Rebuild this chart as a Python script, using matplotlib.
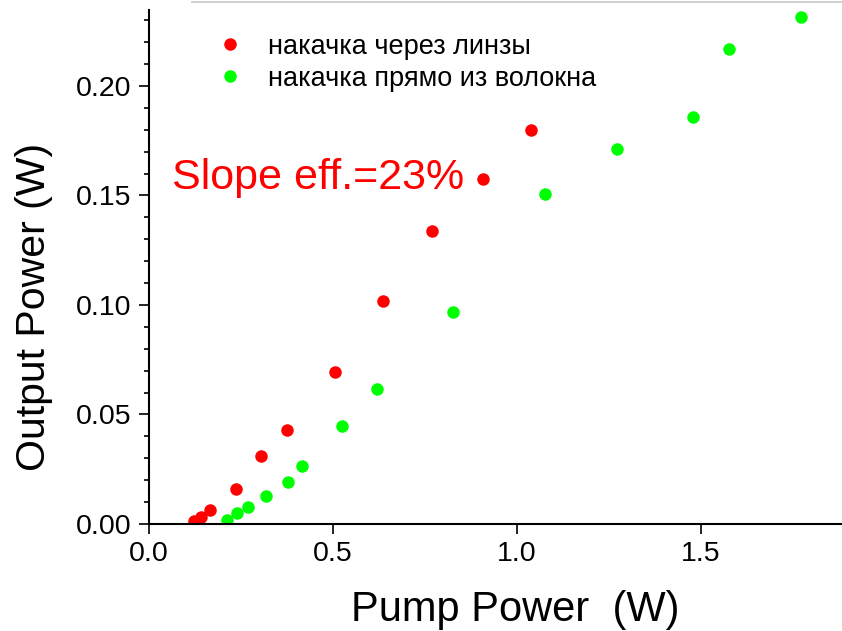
import matplotlib.pyplot as plt
import numpy as np
from matplotlib.lines import Line2D
from matplotlib.ticker import MultipleLocator, FormatStrFormatter

plt.rcParams['font.family'] = ['Liberation Sans', 'DejaVu Sans']

# накачка через линзы
x_lens = [0.122, 0.141, 0.166, 0.236, 0.304, 0.375, 0.505, 0.636, 0.769, 0.908, 1.038]
y_lens = [0.0014, 0.0032, 0.0064, 0.0160, 0.0311, 0.0429, 0.0694, 0.1017, 0.1338, 0.1575, 0.1799]

# накачка прямо из волокна
x_fiber = [0.212, 0.239, 0.269, 0.318, 0.378, 0.416, 0.524, 0.620, 0.826, 1.076, 1.272, 1.478, 1.576, 1.772]
y_fiber = [0.0018, 0.0050, 0.0078, 0.0128, 0.0192, 0.0265, 0.0447, 0.0616, 0.0968, 0.1507, 0.1712, 0.1858, 0.2169, 0.2315]

labels = ['накачка через линзы', 'накачка прямо из волокна']

fig = plt.figure(figsize=(8.42, 6.31), dpi=100)
ax = fig.add_axes([0.177, 0.1696, 0.823, 0.8146])

ax.plot(x_lens, y_lens, 'o', color='#ff0000', ms=9, mec='none', label=labels[0])
ax.plot(x_fiber, y_fiber, 'o', color='#00ff00', ms=9, mec='none', label=labels[1])

ax.set_xlim(0, 1.883)
ax.set_ylim(0, 0.2347)

ax.xaxis.set_major_locator(MultipleLocator(0.5))
ax.xaxis.set_major_formatter(FormatStrFormatter('%.1f'))
ax.yaxis.set_major_locator(MultipleLocator(0.05))
ax.yaxis.set_minor_locator(MultipleLocator(0.01))
ax.yaxis.set_major_formatter(FormatStrFormatter('%.2f'))

for s in ['top', 'right']:
    ax.spines[s].set_visible(False)
for s in ['left', 'bottom']:
    ax.spines[s].set_linewidth(1.5)

ax.tick_params(which='major', length=7, width=1.2, labelsize=20.5, direction='out')
ax.tick_params(which='minor', length=3.8, width=1.2, direction='out')
ax.tick_params(axis='y', pad=5.5)
ax.tick_params(axis='x', pad=5)

ax.set_xlabel('Pump Power  (W)', fontsize=30)
ax.set_ylabel('Output Power (W)', fontsize=29.5)
ax.xaxis.set_label_coords(0.528, -0.129)
ax.yaxis.set_label_coords(-0.139, 0.422)

ax.text(0.0625, 0.153, 'Slope eff.=23%', color='#ff0000', fontsize=31, va='baseline')

ax.legend(loc='upper left', bbox_to_anchor=(0.062, 1.001), frameon=False, fontsize=19.5,
          handlelength=1.0, handletextpad=0.9, labelspacing=0.22, numpoints=1)

fig.add_artist(Line2D([192 / 842, 1.0], [1 - 1.5 / 631] * 2, color='#c8c8c8', lw=1.2,
                      transform=fig.transFigure))

fig.savefig('out.png', dpi=100)
